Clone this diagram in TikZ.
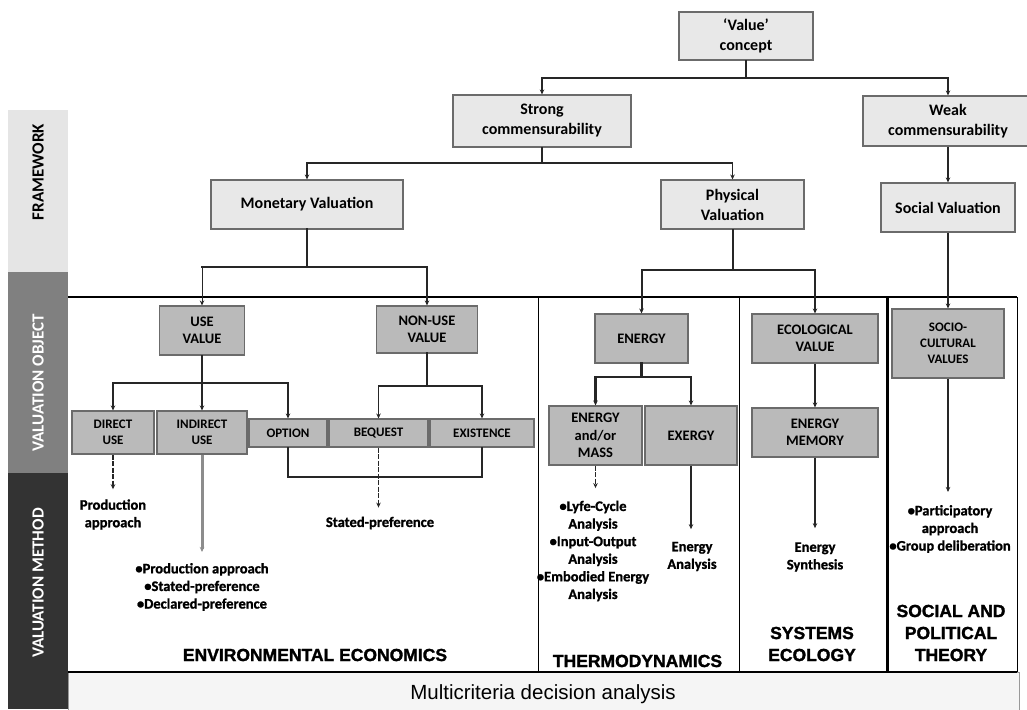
\documentclass[tikz,border=0pt]{standalone}
\usepackage{fontspec}
\setmainfont{Carlito}
\newfontfamily\headfont[BoldFeatures={FakeBold=1.6}]{Liberation Sans}
\newfontfamily\plainhead{Liberation Sans}
\newfontfamily\heavyfont[BoldFeatures={FakeBold=1.2}]{Carlito}
\usetikzlibrary{arrows.meta}
\begin{document}
\begin{tikzpicture}[x=1pt,y=-1pt,
  every node/.style={inner sep=0pt},
  sz/.style 2 args={minimum width=#1pt,minimum height=#2pt},
  fbox/.style={draw=black!58,line width=1.1pt,fill=black!9,align=center,font=\fontsize{16}{20}\selectfont\bfseries},
  obox/.style={draw=black!58,line width=1.1pt,fill=black!27,align=center,font=\fontsize{14.5}{17.5}\selectfont\bfseries},
  sbox/.style={obox,font=\fontsize{13}{16}\selectfont\bfseries},
  mtext/.style={align=center,font=\heavyfont\fontsize{14.5}{17.6}\selectfont\bfseries},
  dtext/.style={align=center,font=\headfont\fontsize{17.5}{22}\selectfont\bfseries},
  bandlabel/.style={rotate=90,font=\fontsize{17}{19}\selectfont\bfseries},
  link/.style={draw=black!85,line width=1.3pt,line cap=rect},
  arr/.style={link,line cap=butt,-{Stealth[length=5pt,width=4.5pt]}},
  brokenline/.style={dash pattern=on 5pt off 1.5pt,line width=1.8pt},
]
\useasboundingbox (0,0) rectangle (1027,709);

% side bands
\fill[black!10] (8,110) rectangle (68,272);
\fill[black!50] (8,272) rectangle (68,473);
\fill[black!80] (8,473) rectangle (68,709);
\node[bandlabel] (lframe) at (38,172) {FRAMEWORK};
\node[bandlabel,text=white] (lobj) at (38,383) {VALUATION OBJECT};
\node[bandlabel,text=white] (lmeth) at (38,583) {VALUATION METHOD};

% frame of the lower part and discipline columns
\draw[line width=1.4pt] (68,297) -- (1017,297);
\draw[line width=1.6pt] (538.5,297) -- (538.5,672);
\draw[line width=1.4pt] (739.5,297) -- (739.5,672);
\draw[line width=2.2pt] (887.5,297) -- (887.5,672);
\draw[line width=0.9pt] (1017,297) -- (1017,672);

% multicriteria strip
\node[draw=black!40,fill=black!4,line width=0.8pt,anchor=north west,sz={951}{40}] (mcda) at (68,672) {};
\draw[line width=1.2pt] (68,672) -- (1017,672);
\node[font=\plainhead\fontsize{20.5}{24}\selectfont] (mcdat) at (543,694) {Multicriteria decision analysis};

% framework level
\node[fbox,sz={134}{48}] (val) at (746,36) {‘Value’\\concept};
\node[fbox,sz={178}{52}] (strong) at (542,121) {Strong\\commensurability};
\node[fbox,sz={170}{50}] (weak) at (948,121) {Weak\\commensurability};
\node[fbox,sz={192}{49}] (mon) at (307,204.5) {Monetary Valuation};
\node[fbox,sz={143}{49}] (phys) at (732.5,204.5) {Physical\\Valuation};
\node[fbox,sz={134}{49}] (soc) at (948,207.5) {Social Valuation};

% valuation objects
\node[obox,sz={85}{49}] (use) at (202,330.5) {USE\\VALUE};
\node[obox,sz={101}{47}] (nonuse) at (427,329.5) {NON-USE\\VALUE};
\node[obox,sz={93}{49}] (energy) at (641.5,338.5) {ENERGY};
\node[obox,sz={126}{49}] (eco) at (815,338.5) {ECOLOGICAL\\VALUE};
\node[sbox,sz={112}{69}] (socio) at (948,343.5) {SOCIO-\\CULTURAL\\VALUES};
\node[sbox,sz={82}{43}] (direct) at (113,432.5) {DIRECT\\USE};
\node[sbox,sz={90}{43}] (indirect) at (202,432.5) {INDIRECT\\USE};
\node[sbox,sz={78}{28}] (option) at (288,433) {OPTION};
\node[sbox,sz={99}{28}] (bequest) at (378.5,433) {BEQUEST};
\node[sbox,sz={104}{28}] (exist) at (482,433) {EXISTENCE};
\node[obox,sz={93}{59}] (emass) at (595.5,435.5) {ENERGY\\and/or\\MASS};
\node[obox,sz={92}{59}] (exergy) at (691,435.5) {EXERGY};
\node[obox,sz={126}{49}] (emem) at (815,432.5) {ENERGY\\MEMORY};

% valuation methods
\node[mtext] (pa) at (113,514.5) {Production\\approach};
\node[mtext] (plist) at (202,587) {•Production approach\\•Stated-preference\\•Declared-preference};
\node[mtext] (sp) at (380,523) {Stated-preference};
\node[mtext] (tlist) at (593,551) {•Lyfe-Cycle\\Analysis\\•Input-Output\\Analysis\\•Embodied Energy\\Analysis};
\node[mtext] (exa) at (692,556.5) {Energy\\Analysis};
\node[mtext] (ems) at (815,557) {Energy\\Synthesis};
\node[mtext] (part) at (950,529) {•Participatory\\approach\\•Group deliberation};

% disciplines
\node[dtext] (envec) at (315,655) {ENVIRONMENTAL ECONOMICS};
\node[dtext] (thermo) at (637.5,661) {THERMODYNAMICS};
\node[dtext] (syseco) at (812,644) {SYSTEMS\\ECOLOGY};
\node[dtext] (spt) at (951,633) {SOCIAL AND\\POLITICAL\\THEORY};

% connectors: framework
\coordinate (jv) at (746,78);
\draw[link,line width=2pt] (val.south) -- (jv);
\draw[arr] (jv) -| (strong.north);
\draw[arr] (jv) -| (weak.north);

\coordinate (js) at (542,163);
\draw[link,line width=1.6pt] (strong.south) -- (js);
\draw[arr] (js) -| (mon.north);
\draw[arr] (js) -| (phys.north);

\draw[arr,line width=2pt] (weak.south) -- (soc.north);

% connectors: objects
\coordinate (jm) at (307,267);
\draw[link,line width=2.6pt] (mon.south) -- (jm) -- (jm -| use.north);
\draw[arr,line width=1pt] (jm -| use.north) -- (use.north);
\draw[link] (jm) -- (jm -| nonuse.north);
\draw[arr,line width=2.6pt] (jm -| nonuse.north) -- (nonuse.north);

\coordinate (jp) at (732.5,270);
\draw[link,line width=2pt] (phys.south) -- (jp);
\draw[arr,line width=2pt] (jp) -| (energy.north);
\draw[arr,line width=2pt] (jp) -| (eco.north);

\draw[arr,line width=2pt] (soc.south) -- (socio.north);

\coordinate (ju) at (202,383);
\draw[link,line width=2pt] (use.south) -- (ju);
\draw[arr] (ju) -| (direct.north);
\draw[arr] (ju) -- (indirect.north);
\draw[arr] (ju) -| (option.north);

\coordinate (jn) at (427,386);
\draw[link,line width=2.6pt] (nonuse.south) -- (jn);
\draw[arr] (jn) -| (bequest.north);
\draw[arr] (jn) -| (exist.north);

\coordinate (je) at (641.5,377);
\draw[link,line width=2.4pt] (energy.south) -- (je);
\draw[arr,line width=2.4pt] (je) -| (emass.north);
\draw[arr,line width=2.4pt] (je) -| (exergy.north);

\draw[arr,line width=2pt] (eco.south) -- (emem.north);

% connectors: methods
\draw[arr,brokenline,shorten >=10pt] (direct.south) -- (direct.south |- pa.north);
\draw[arr,draw=black!45,line width=3pt,shorten >=11pt] (indirect.south) -- (indirect.south |- plist.north);
\coordinate (jo) at (288,477);
\draw[link] (option.south) -- (jo) -- (jo -| exist.south) -- (exist.south);
\draw[arr,brokenline,shorten >=9pt] (bequest.south) -- (bequest.south |- sp.north);
\draw[arr,brokenline,shorten >=12.5pt] (emass.south) -- (emass.south |- tlist.north);
\draw[arr,shorten >=12.5pt] (exergy.south) -- (exergy.south |- exa.north);
\draw[arr,line width=1.6pt,shorten >=14pt] (emem.south) -- (emem.south |- ems.north);
\draw[arr,line width=1.6pt,shorten >=13pt] (socio.south) -- (socio.south |- part.north);
\end{tikzpicture}
\end{document}
